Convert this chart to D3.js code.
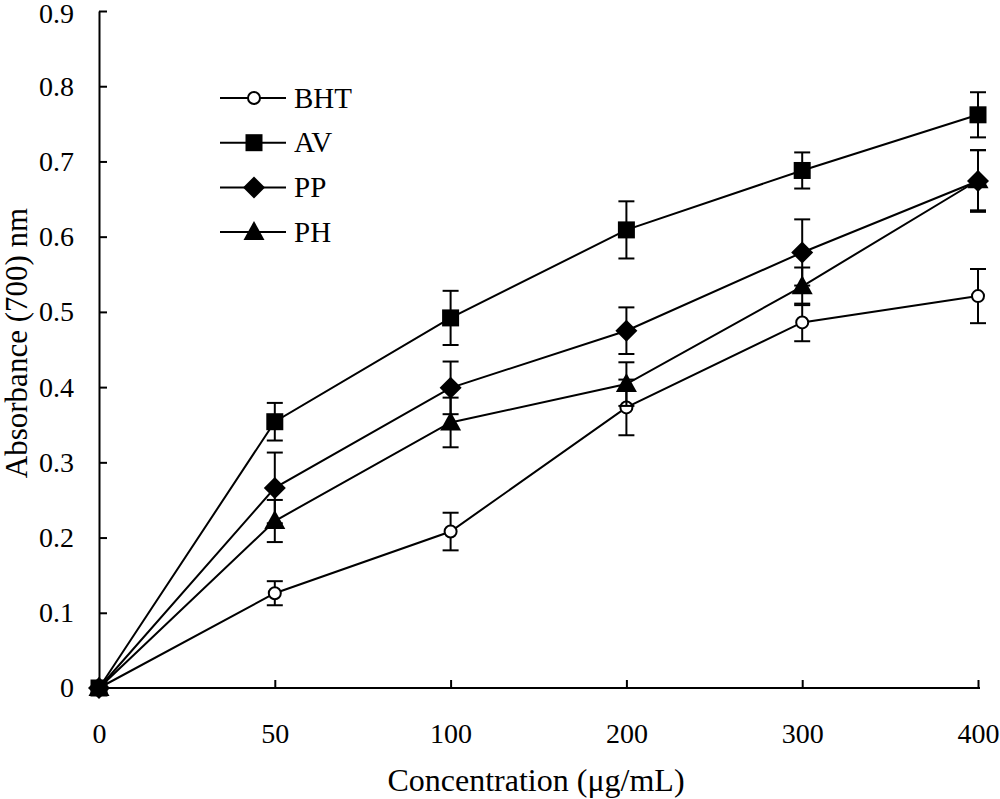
<!DOCTYPE html>
<html>
<head>
<meta charset="utf-8">
<script src="https://cdn.jsdelivr.net/npm/d3@7"></script>
<style>
  body { margin: 0; background: #fff; }
  svg text { font-family: "Liberation Serif", "Times New Roman", serif; fill: #000; }
</style>
</head>
<body>
<svg id="chart" width="1000" height="799"></svg>
<script>
// ── Data ──────────────────────────────────────────────────────────────────────
const CONC    = ['0', '50', '100', '200', '300', '400'];
const Y_TICKS = [0, 0.1, 0.2, 0.3, 0.4, 0.5, 0.6, 0.7, 0.8, 0.9];

const BHT_VAL = [0, 0.126, 0.208, 0.373, 0.486, 0.521];
const BHT_ERR = [0, 0.016, 0.025, 0.037, 0.025, 0.036];
const AV_VAL  = [0, 0.354, 0.492, 0.609, 0.688, 0.762];
const AV_ERR  = [0, 0.025, 0.036, 0.038, 0.024, 0.030];
const PP_VAL  = [0, 0.266, 0.399, 0.475, 0.579, 0.674];
const PP_ERR  = [0, 0.047, 0.035, 0.031, 0.044, 0.041];
const PH_VAL  = [0, 0.222, 0.353, 0.404, 0.534, 0.675];
const PH_ERR  = [0, 0.028, 0.033, 0.029, 0.025, 0.040];

const SERIES = [
    { name: 'BHT', shape: 'circle',   vals: BHT_VAL, errs: BHT_ERR },
    { name: 'AV',  shape: 'square',   vals: AV_VAL,  errs: AV_ERR },
    { name: 'PP',  shape: 'diamond',  vals: PP_VAL,  errs: PP_ERR },
    { name: 'PH',  shape: 'triangle', vals: PH_VAL,  errs: PH_ERR },
];

// ── Layout ────────────────────────────────────────────────────────────────────
const svg = d3.select('#chart');
const X0 = 99, X1 = 978, Y0 = 688, Y1 = 11;

const x = d3.scalePoint().domain(CONC).range([X0, X1]);
const y = d3.scaleLinear().domain([0, 0.9]).range([Y0, Y1]);

// Axes (ticks pointing inward)
svg.append('g')
    .attr('transform', `translate(${X0},0)`)
    .call(d3.axisLeft(y).tickValues(Y_TICKS).tickSizeInner(-8).tickSizeOuter(0)
        .tickPadding(25).tickFormat(d => d === 0 ? '0' : d3.format('.1f')(d)))
    .call(g => g.select('.domain').attr('stroke-width', 2))
    .call(g => g.selectAll('.tick line').attr('stroke-width', 2))
    .call(g => g.selectAll('.tick text').attr('font-size', 28).attr('font-family', null)
        .attr('dy', d => d === 0.9 ? '0.42em' : '0.32em'));

svg.append('g')
    .attr('transform', `translate(0,${Y0})`)
    .call(d3.axisBottom(x).tickSizeInner(-8).tickSizeOuter(0).tickPadding(35))
    .call(g => g.select('.domain').attr('stroke-width', 2).attr('d', `M${X0},0H${X1 + 2}`))
    .call(g => g.selectAll('.tick line').attr('stroke-width', 2))
    .call(g => g.selectAll('.tick text').attr('font-size', 28).attr('font-family', null));

// Axis titles
svg.append('text')
    .attr('x', 536).attr('y', 791)
    .attr('text-anchor', 'middle')
    .attr('font-size', 32)
    .text('Concentration (μg/mL)');

svg.append('text')
    .attr('transform', 'translate(27,343) rotate(-90)')
    .attr('text-anchor', 'middle')
    .attr('font-size', 31)
    .text('Absorbance (700) nm');

// ── Markers ───────────────────────────────────────────────────────────────────
function drawMarker(g, shape, cx, cy) {
    if (shape === 'circle') {
        g.append('circle').attr('cx', cx).attr('cy', cy).attr('r', 6)
            .attr('fill', '#fff').attr('stroke', '#000').attr('stroke-width', 2);
    } else if (shape === 'square') {
        g.append('rect').attr('x', cx - 8.5).attr('y', cy - 8.5)
            .attr('width', 17).attr('height', 17).attr('fill', '#000');
    } else if (shape === 'diamond') {
        g.append('path').attr('d', `M${cx},${cy - 11}L${cx + 11},${cy}L${cx},${cy + 11}L${cx - 11},${cy}Z`)
            .attr('fill', '#000');
    } else {
        g.append('path').attr('d', `M${cx},${cy - 11}L${cx + 10.5},${cy + 8}L${cx - 10.5},${cy + 8}Z`)
            .attr('fill', '#000');
    }
}

const line = d3.line().x((d, i) => x(CONC[i])).y(d => y(d));

SERIES.forEach(s => {
    const g = svg.append('g');

    // Error bars
    s.vals.forEach((v, i) => {
        const e = s.errs[i];
        if (!e) return;
        const cx = x(CONC[i]);
        g.append('line').attr('x1', cx).attr('x2', cx)
            .attr('y1', y(v - e)).attr('y2', y(v + e))
            .attr('stroke', '#000').attr('stroke-width', 2);
        [v - e, v + e].forEach(t => {
            g.append('line').attr('x1', cx - 8).attr('x2', cx + 8)
                .attr('y1', y(t)).attr('y2', y(t))
                .attr('stroke', '#000').attr('stroke-width', 2);
        });
    });

    g.append('path')
        .attr('d', line(s.vals))
        .attr('fill', 'none').attr('stroke', '#000').attr('stroke-width', 2);

    s.vals.forEach((v, i) => drawMarker(g, s.shape, x(CONC[i]), y(v)));
});

// ── Legend ────────────────────────────────────────────────────────────────────
const legend = svg.append('g');
SERIES.forEach((s, i) => {
    const ly = 98 + i * 44.7;
    legend.append('line').attr('x1', 220).attr('x2', 286)
        .attr('y1', ly).attr('y2', ly)
        .attr('stroke', '#000').attr('stroke-width', 2);
    drawMarker(legend, s.shape, 254, ly);
    legend.append('text')
        .attr('x', 294).attr('y', ly + 9.5)
        .attr('font-size', 29)
        .text(s.name);
});
</script>
</body>
</html>
